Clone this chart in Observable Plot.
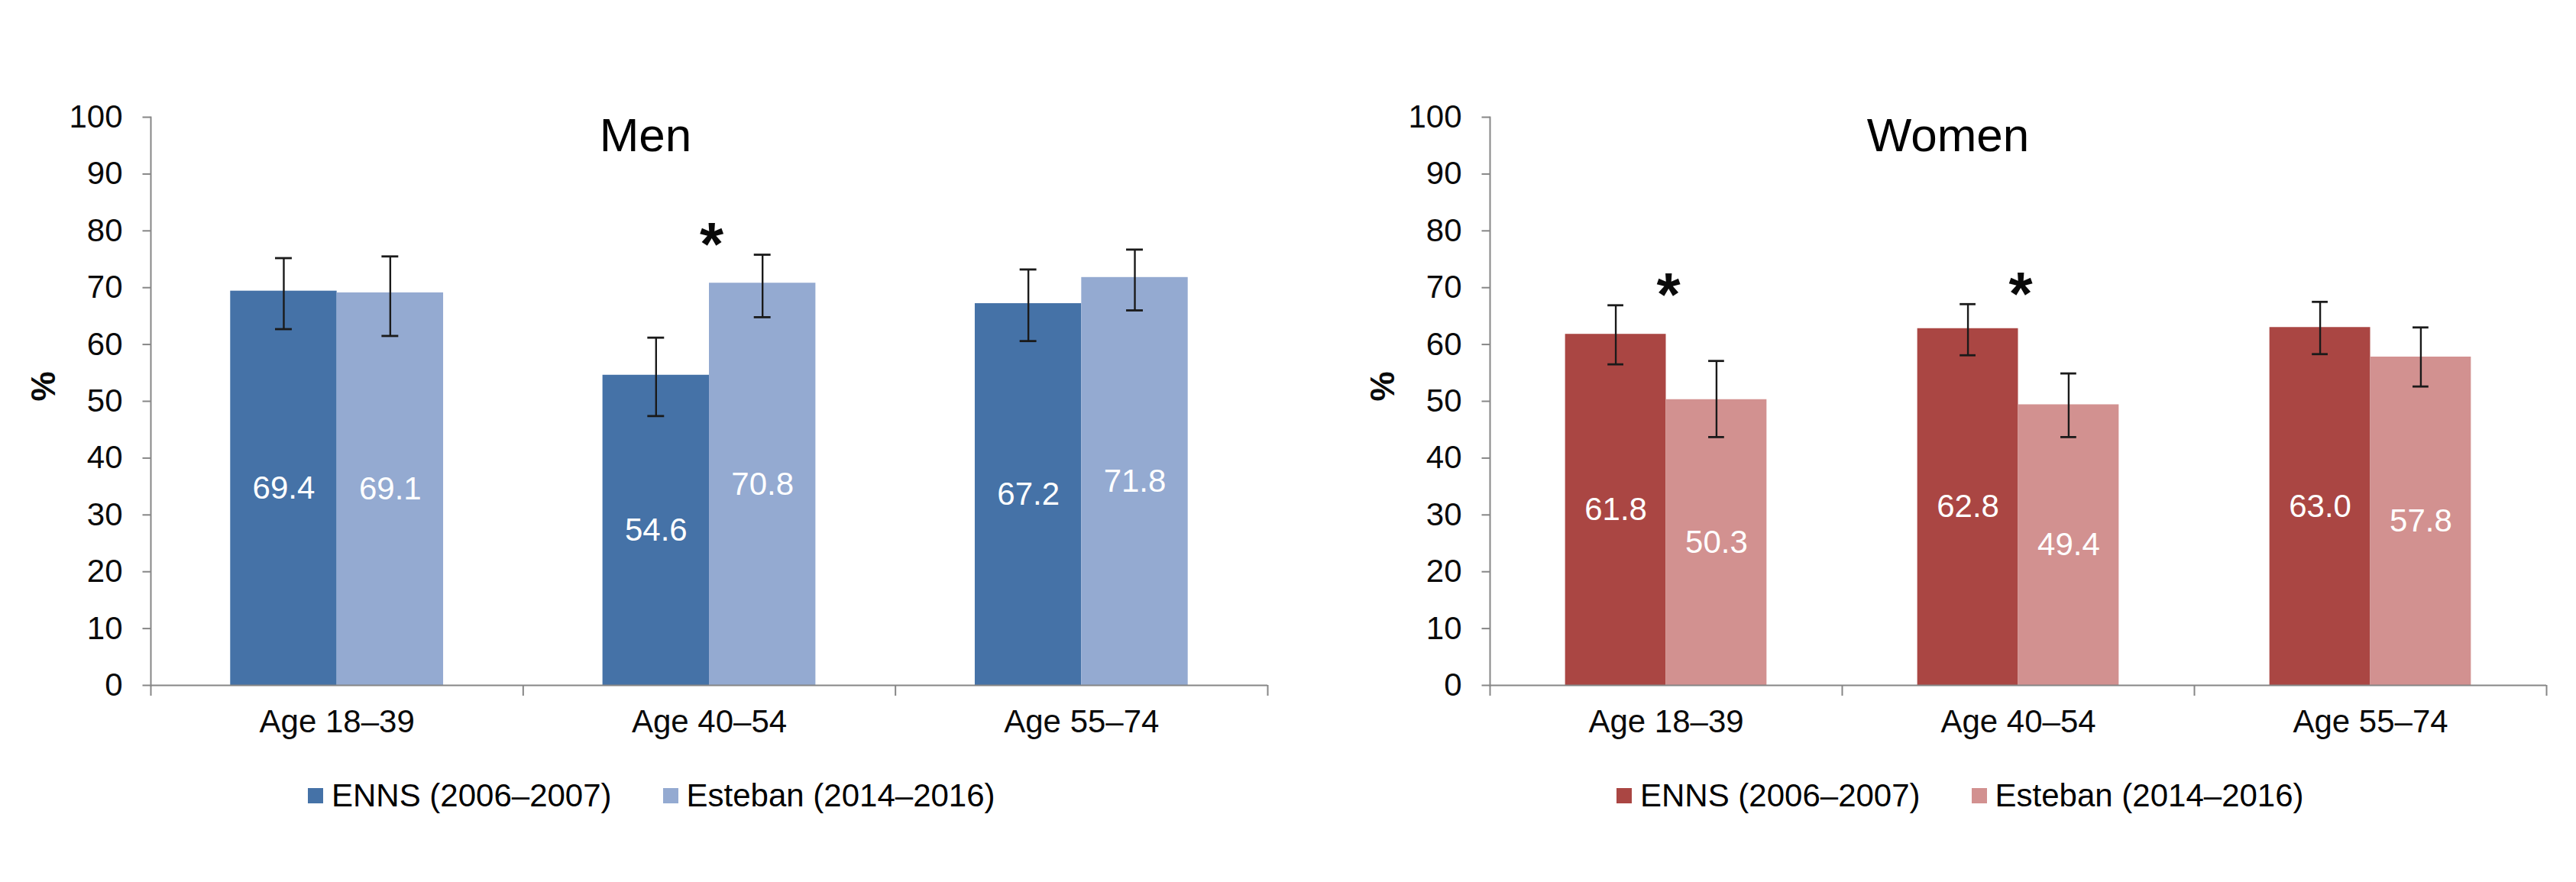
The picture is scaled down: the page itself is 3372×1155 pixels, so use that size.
<!DOCTYPE html>
<html>
<head>
<meta charset="utf-8">
<script src="https://cdn.jsdelivr.net/npm/d3@7"></script>
<script src="https://cdn.jsdelivr.net/npm/@observablehq/plot@0.6"></script>
<style>
  body { margin: 0; background: #fff; font-family: "Liberation Sans", Arial, sans-serif; }
  #root { position: relative; width: 3372px; height: 1155px; overflow: hidden; }
  .panel { position: absolute; top: 0; }
  .title { position: absolute; font-size: 62px; line-height: 1; transform: translateX(-50%); white-space: nowrap; color: #000; }
  .legend { position: absolute; display: flex; align-items: center; font-size: 42px; line-height: 1; white-space: nowrap; color: #000; }
  .item { display: flex; align-items: center; margin-right: 67px; }
  .sw { display: inline-block; width: 20px; height: 20px; margin-right: 11px; }
</style>
</head>
<body>
<div id="root"></div>
<script>
// ---- data ----
const ageGroups = ["Age 18–39", "Age 40–54", "Age 55–74"];
const surveys = ["ENNS (2006–2007)", "Esteban (2014–2016)"];
const yTicks = [0, 10, 20, 30, 40, 50, 60, 70, 80, 90, 100];

const menENNS = [69.4, 54.6, 67.2];
const menENNSLow = [62.7, 47.4, 60.6];
const menENNSHigh = [75.2, 61.2, 73.2];
const menEsteban = [69.1, 70.8, 71.8];
const menEstebanLow = [61.5, 64.8, 66.0];
const menEstebanHigh = [75.5, 75.8, 76.7];
const menSignificant = [false, true, false];

const womenENNS = [61.8, 62.8, 63.0];
const womenENNSLow = [56.5, 58.1, 58.3];
const womenENNSHigh = [66.9, 67.1, 67.5];
const womenEsteban = [50.3, 49.4, 57.8];
const womenEstebanLow = [43.7, 43.7, 52.6];
const womenEstebanHigh = [57.1, 54.9, 63.0];
const womenSignificant = [true, true, false];

const menColors = ["#4572A7", "#94AAD1"];
const womenColors = ["#AA4643", "#D29190"];

// ---- layout constants ----
const BAR_W = 0.286;   // bar width in category units
const CAP = 0.0225;    // half width of error-bar caps
const STAR_GAP = 3.5;  // gap above highest CI
const FONT = "Liberation Sans, Arial, sans-serif";

function buildRows(vals) {
  const rows = [];
  ageGroups.forEach((age, i) => {
    vals.forEach((v, s) => {
      const x1 = s === 0 ? i - BAR_W : i;
      const x2 = s === 0 ? i : i + BAR_W;
      rows.push({i, age, survey: surveys[s], value: v.value[i], lo: v.lo[i], hi: v.hi[i], x1, x2, cx: (x1 + x2) / 2});
    });
  });
  return rows;
}

function panel(cfg) {
  const rows = buildRows([
    {value: cfg.enns, lo: cfg.ennsLo, hi: cfg.ennsHi},
    {value: cfg.est, lo: cfg.estLo, hi: cfg.estHi}
  ]);
  const stars = ageGroups.map((age, i) => ({i, sig: cfg.sig[i], top: Math.max(cfg.ennsHi[i], cfg.estHi[i])})).filter(d => d.sig);

  const chart = Plot.plot({
    width: cfg.width,
    height: 990,
    marginLeft: cfg.marginLeft,
    marginRight: cfg.marginRight,
    marginTop: 153,
    marginBottom: 93,
    style: {fontFamily: FONT, fontSize: "42px", color: "#000", background: "transparent"},
    x: {domain: [-0.5, 2.5]},
    y: {domain: [0, 100]},
    color: {domain: surveys, range: cfg.colors},
    marks: [
      Plot.rect(rows, {x1: "x1", x2: "x2", y1: 0, y2: "value", fill: "survey"}),
      Plot.frame({anchor: "left", stroke: "#868686", strokeWidth: 2}),
      Plot.ruleY([0], {stroke: "#868686", strokeWidth: 2}),
      Plot.axisY(yTicks, {tickSize: 10.5, tickFormat: () => "", stroke: "#868686", strokeWidth: 2, label: null}),
      Plot.axisY(yTicks, {tickSize: 0, tickPadding: 37, color: "#0a0a0a", fontSize: 42, label: null}),
      Plot.axisX([-0.5, 0.5, 1.5, 2.5], {tickSize: 14, tickFormat: () => "", stroke: "#868686", strokeWidth: 2, label: null}),
      Plot.axisX([0, 1, 2], {tickSize: 0, tickPadding: 32, tickFormat: i => ageGroups[i], color: "#0a0a0a", fontSize: 42, label: null}),
      Plot.ruleX(rows, {x: "cx", y1: "lo", y2: "hi", stroke: "#1a1a1a", strokeWidth: 2.4}),
      Plot.ruleY(rows, {y: "hi", x1: d => d.cx - CAP, x2: d => d.cx + CAP, stroke: "#1a1a1a", strokeWidth: 2.8}),
      Plot.ruleY(rows, {y: "lo", x1: d => d.cx - CAP, x2: d => d.cx + CAP, stroke: "#1a1a1a", strokeWidth: 2.8}),
      Plot.text(rows, {x: "cx", y: d => d.value / 2, text: d => d.value.toFixed(1), fill: "#fff", fontSize: 42}),
      Plot.text(stars, {x: "i", y: d => d.top + STAR_GAP, text: () => "*", fill: "#0a0a0a", fontSize: 80, fontWeight: "bold", dy: 14, dx: 3}),
      Plot.text(["%"], {frameAnchor: "left", dx: -140, rotate: -90, fontWeight: "bold", fontSize: 44, fill: "#0a0a0a"})
    ]
  });

  const wrap = document.createElement("div");
  wrap.className = "panel";
  wrap.style.left = cfg.left + "px";
  wrap.style.width = cfg.width + "px";
  wrap.appendChild(chart);

  const t = document.createElement("div");
  t.className = "title";
  t.textContent = cfg.title;
  t.style.left = (cfg.titleX - cfg.left) + "px";
  t.style.top = "146px";
  wrap.appendChild(t);

  const lg = document.createElement("div");
  lg.className = "legend";
  lg.style.left = (cfg.legendX - cfg.left) + "px";
  lg.style.top = "1021px";
  surveys.forEach((s, k) => {
    const it = document.createElement("div");
    it.className = "item";
    const sw = document.createElement("span");
    sw.className = "sw";
    sw.style.background = cfg.colors[k];
    it.appendChild(sw);
    const tx = document.createElement("span");
    tx.textContent = s;
    it.appendChild(tx);
    lg.appendChild(it);
  });
  wrap.appendChild(lg);
  document.getElementById("root").appendChild(wrap);
}

panel({
  title: "Men", enns: menENNS, ennsLo: menENNSLow, ennsHi: menENNSHigh,
  est: menEsteban, estLo: menEstebanLow, estHi: menEstebanHigh, sig: menSignificant,
  colors: menColors, left: 0, width: 1700, marginLeft: 197, marginRight: 41,
  titleX: 845, legendX: 403
});
panel({
  title: "Women", enns: womenENNS, ennsLo: womenENNSLow, ennsHi: womenENNSHigh,
  est: womenEsteban, estLo: womenEstebanLow, estHi: womenEstebanHigh, sig: womenSignificant,
  colors: womenColors, left: 1700, width: 1672, marginLeft: 250, marginRight: 39,
  titleX: 2550, legendX: 2116
});
</script>
</body>
</html>
